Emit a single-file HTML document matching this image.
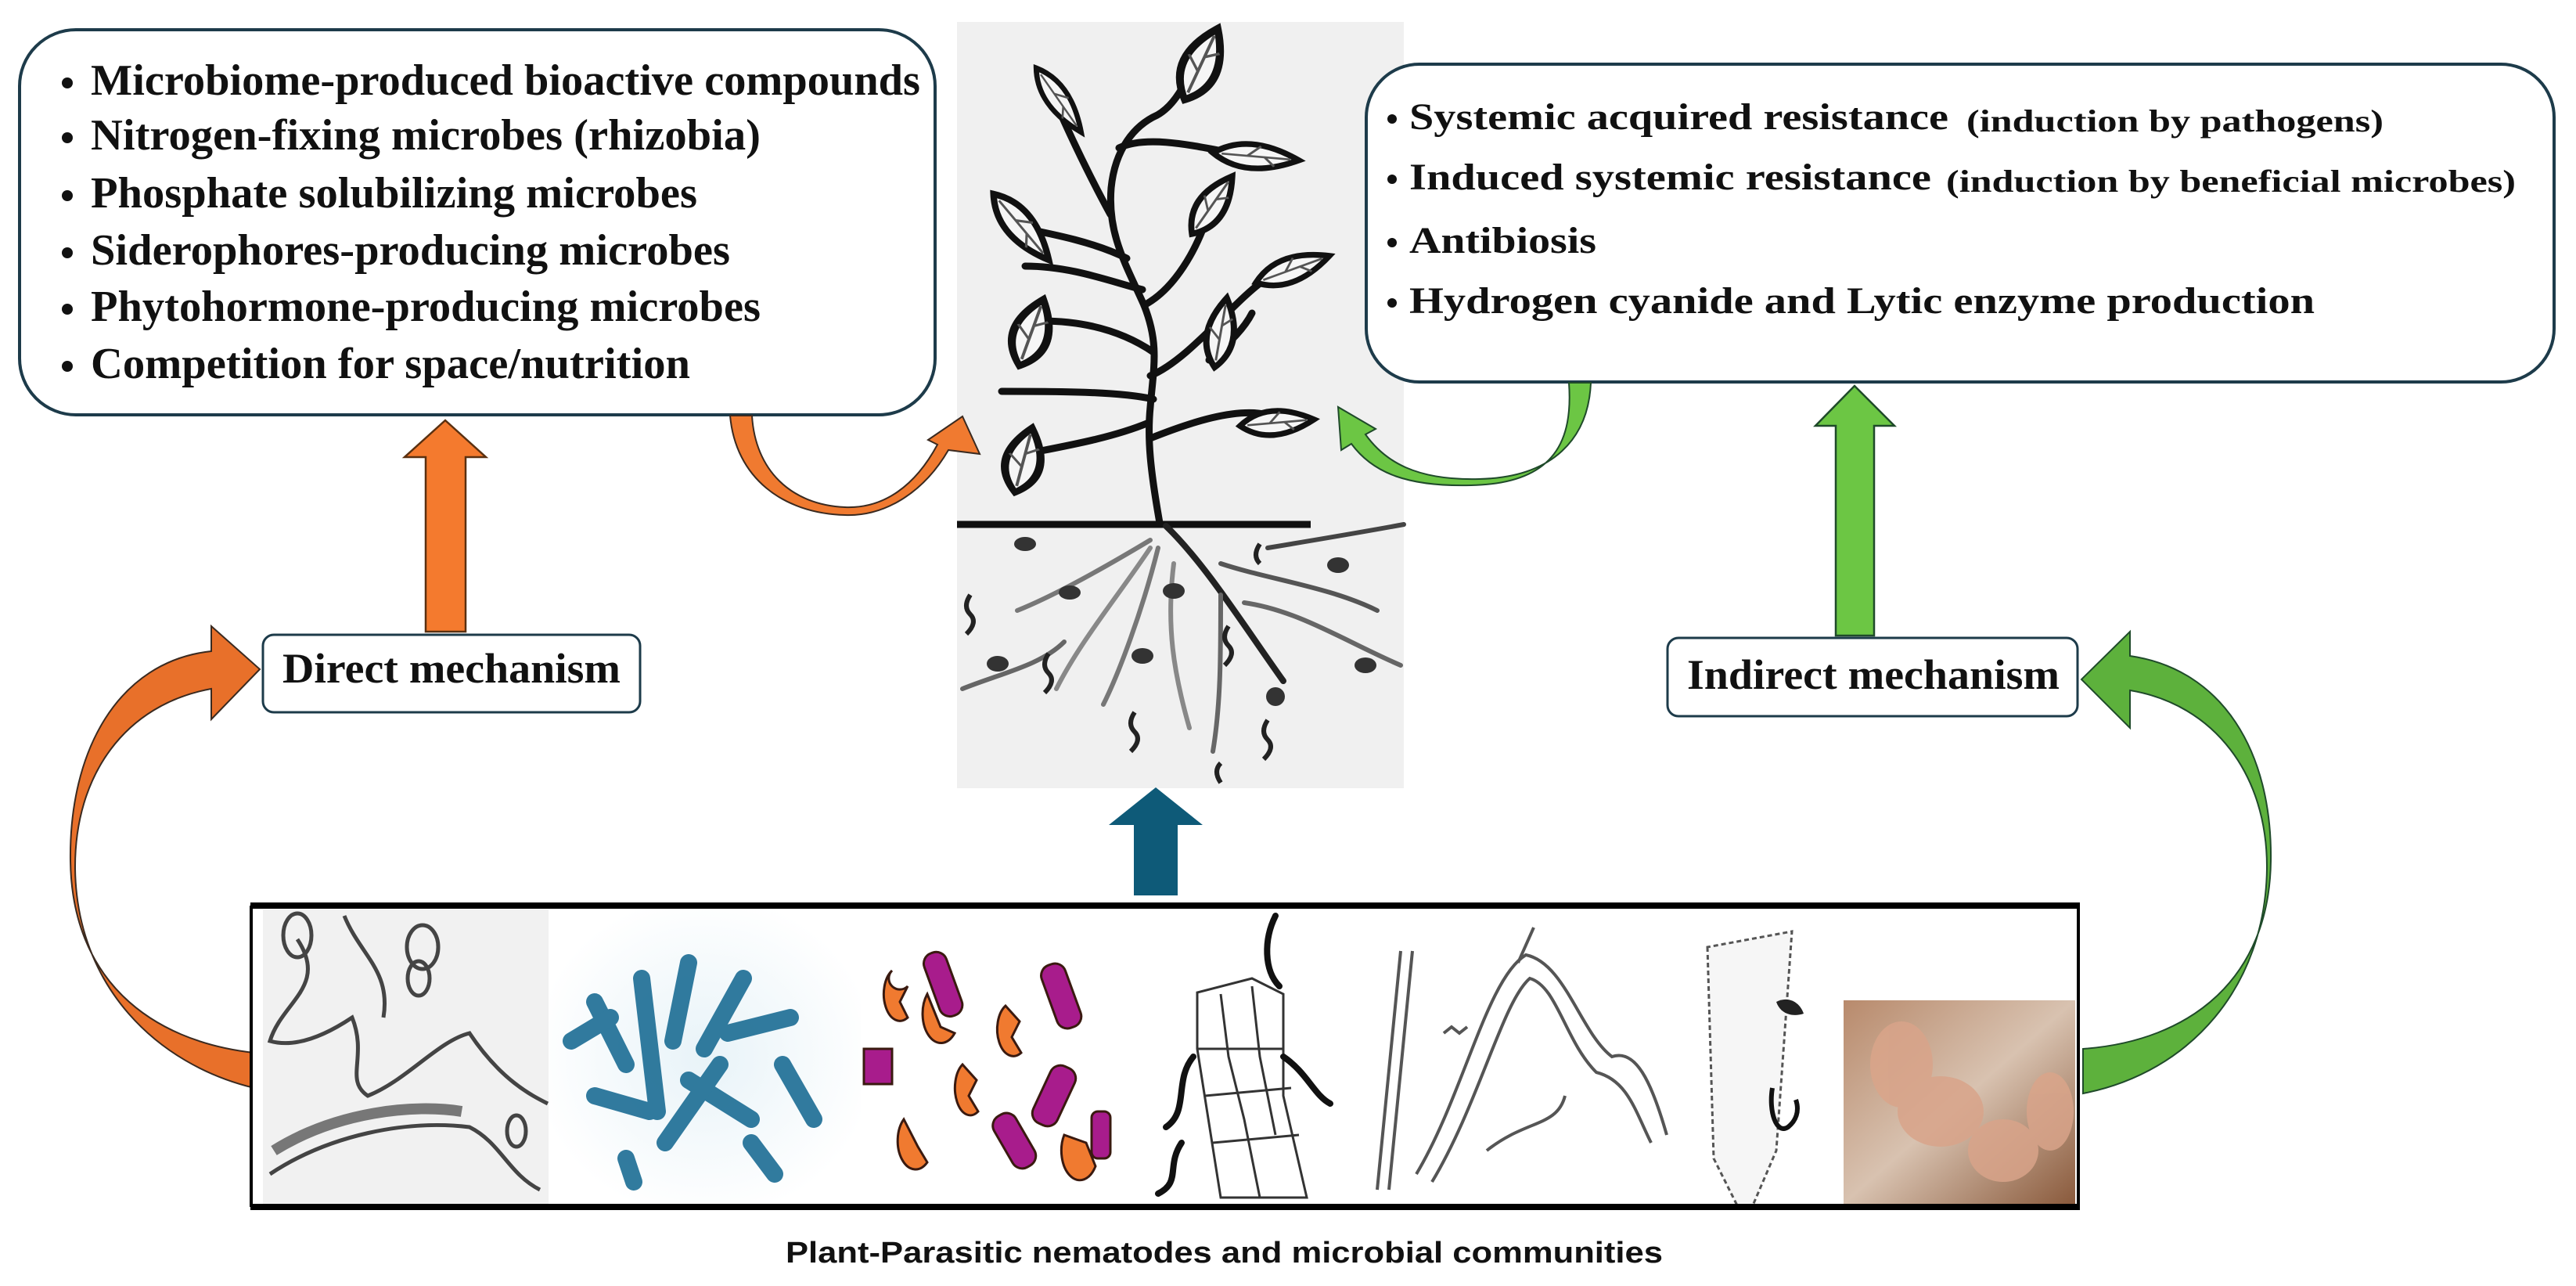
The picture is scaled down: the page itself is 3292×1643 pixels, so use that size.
<!DOCTYPE html>
<html><head><meta charset="utf-8"><style>
html,body{margin:0;padding:0;background:#fff}
svg{display:block}
.s{font-family:"Liberation Serif",serif;font-weight:bold;fill:#111}
</style></head><body>
<svg width="3292" height="1643" viewBox="0 0 3292 1643" xmlns="http://www.w3.org/2000/svg">
<defs>
<radialGradient id="bl" cx="50%" cy="50%" r="55%"><stop offset="0" stop-color="#e8f3f8"/><stop offset="1" stop-color="#fff"/></radialGradient>
<linearGradient id="ph" x1="0" y1="0" x2="1" y2="1"><stop offset="0" stop-color="#b88a6c"/><stop offset=".5" stop-color="#d8c2b0"/><stop offset="1" stop-color="#8a5a3c"/></linearGradient>
<g id="leaf"><path d="M-50 0 Q-10 -34 50 0 Q-10 34 -50 0Z" fill="#f6f6f6" stroke="#111" stroke-width="8"/><path d="M-40 0 L40 0 M-10 0 L5 -15 M10 0 L22 12" fill="none" stroke="#555" stroke-width="3"/></g>
</defs>

<!-- plant panel -->
<rect x="1223" y="28" width="571" height="979" fill="#f0f0f0"/>
<g fill="none" stroke="#111" stroke-width="9" stroke-linecap="round">
<path d="M1482 668 C1470 600 1466 560 1470 520 C1474 470 1482 440 1462 390 C1440 340 1415 300 1420 240 C1425 190 1450 160 1479 147 C1500 135 1515 110 1530 70"/>
<path d="M1419 274 C1395 230 1370 180 1340 110"/>
<path d="M1430 189 C1470 170 1540 190 1600 200"/>
<path d="M1462 390 C1500 370 1530 320 1545 270"/>
<path d="M1460 370 C1420 360 1370 340 1310 340"/>
<path d="M1440 330 C1400 310 1350 300 1300 290"/>
<path d="M1470 480 C1520 460 1580 380 1620 355"/>
<path d="M1474 450 C1430 420 1380 410 1330 410"/>
<path d="M1474 510 C1430 500 1350 500 1280 500"/>
<path d="M1470 560 C1520 540 1580 520 1620 530"/>
<path d="M1468 540 C1420 560 1360 570 1310 580"/>
<path d="M1545 460 C1570 440 1590 420 1600 400"/>
</g>
<use href="#leaf" transform="translate(1535 82) rotate(-65) scale(1 1.3)"/>
<use href="#leaf" transform="translate(1353 128) rotate(55) scale(1 0.8)"/>
<use href="#leaf" transform="translate(1605 200) rotate(5) scale(1.1 0.9)"/>
<use href="#leaf" transform="translate(1549 262) rotate(-55) scale(0.9 1)"/>
<use href="#leaf" transform="translate(1305 290) rotate(50) scale(1.1 1)"/>
<use href="#leaf" transform="translate(1652 344) rotate(-20) scale(1 0.9)"/>
<use href="#leaf" transform="translate(1318 425) rotate(-70) scale(0.9 1.3)"/>
<use href="#leaf" transform="translate(1560 425) rotate(-80) scale(0.9 1)"/>
<use href="#leaf" transform="translate(1632 540) rotate(-5) scale(0.95 0.9)"/>
<use href="#leaf" transform="translate(1308 588) rotate(-75) scale(0.85 1.3)"/>
<line x1="1223" y1="670" x2="1675" y2="670" stroke="#111" stroke-width="9"/>
<g fill="none" stroke="#333" stroke-width="6" stroke-linecap="round">
<path d="M1490 672 C1540 720 1590 800 1640 870" stroke-width="8" stroke="#222"/>
<path d="M1470 690 C1420 720 1350 760 1300 780" stroke="#777"/>
<path d="M1470 700 C1430 760 1380 820 1350 880" stroke="#888"/>
<path d="M1480 700 C1460 780 1430 860 1410 900" stroke="#777"/>
<path d="M1500 720 C1490 800 1500 860 1520 930" stroke="#888"/>
<path d="M1560 760 C1560 840 1560 900 1550 960" stroke="#666"/>
<path d="M1560 720 C1620 740 1700 750 1760 780" stroke="#555"/>
<path d="M1590 770 C1660 780 1720 820 1790 850" stroke="#666"/>
<path d="M1620 700 C1680 690 1740 680 1794 670" stroke="#444"/>
<path d="M1230 880 C1280 860 1330 850 1360 820" stroke="#666"/>
</g>
<g fill="#333">
<ellipse cx="1310" cy="695" rx="14" ry="9"/><ellipse cx="1367" cy="757" rx="14" ry="9"/>
<ellipse cx="1500" cy="755" rx="14" ry="10"/><ellipse cx="1710" cy="722" rx="14" ry="10"/>
<ellipse cx="1275" cy="848" rx="14" ry="10"/><ellipse cx="1460" cy="838" rx="14" ry="10"/>
<ellipse cx="1745" cy="850" rx="14" ry="10"/><ellipse cx="1630" cy="890" rx="12" ry="12"/>
</g>
<g fill="none" stroke="#222" stroke-width="6">
<path d="M1240 760 q-10 15 0 25 q10 10 -5 25"/><path d="M1340 835 q-10 15 0 25 q10 10 -5 25"/>
<path d="M1450 910 q-10 15 0 25 q10 10 -5 25"/><path d="M1570 800 q-10 15 0 25 q10 10 -5 25"/>
<path d="M1560 1000 q-10 -15 0 -25"/><path d="M1620 920 q-10 15 0 25 q10 10 -5 25"/>
<path d="M1610 695 q-10 15 0 25"/>
</g>

<!-- left box -->
<rect x="25" y="38" width="1170" height="492" rx="72" fill="#fff" stroke="#1d3b4a" stroke-width="4"/>
<g fill="#111">
<circle cx="86" cy="106" r="7"/><circle cx="86" cy="176" r="7"/><circle cx="86" cy="250" r="7"/>
<circle cx="86" cy="323" r="7"/><circle cx="86" cy="395" r="7"/><circle cx="86" cy="468" r="7"/>
</g>
<g class="s" font-size="56">
<text x="116" y="121" textLength="1060" lengthAdjust="spacingAndGlyphs">Microbiome-produced bioactive compounds</text>
<text x="116" y="191" textLength="856" lengthAdjust="spacingAndGlyphs">Nitrogen-fixing microbes (rhizobia)</text>
<text x="116" y="265" textLength="775" lengthAdjust="spacingAndGlyphs">Phosphate solubilizing microbes</text>
<text x="116" y="338" textLength="817" lengthAdjust="spacingAndGlyphs">Siderophores-producing microbes</text>
<text x="116" y="410" textLength="856" lengthAdjust="spacingAndGlyphs">Phytohormone-producing microbes</text>
<text x="116" y="483" textLength="766" lengthAdjust="spacingAndGlyphs">Competition for space/nutrition</text>
</g>

<!-- right box -->
<rect x="1746" y="82" width="1518" height="406" rx="68" fill="#fff" stroke="#1d3b4a" stroke-width="4"/>
<g fill="#111">
<circle cx="1779" cy="152" r="6"/><circle cx="1779" cy="229" r="6"/><circle cx="1779" cy="310" r="6"/><circle cx="1779" cy="387" r="6"/>
</g>
<g class="s">
<text x="1801" y="165" font-size="48" textLength="689" lengthAdjust="spacingAndGlyphs">Systemic acquired resistance</text>
<text x="2513" y="168" font-size="40" textLength="533" lengthAdjust="spacingAndGlyphs">(induction by pathogens)</text>
<text x="1801" y="242" font-size="48" textLength="667" lengthAdjust="spacingAndGlyphs">Induced systemic resistance</text>
<text x="2487" y="245" font-size="40" textLength="728" lengthAdjust="spacingAndGlyphs">(induction by beneficial microbes)</text>
<text x="1801" y="323" font-size="48" textLength="239" lengthAdjust="spacingAndGlyphs">Antibiosis</text>
<text x="1801" y="400" font-size="48" textLength="1157" lengthAdjust="spacingAndGlyphs">Hydrogen cyanide and Lytic enzyme production</text>
</g>

<!-- orange U arrow -->
<path d="M933 531 L961 531 C965 600 1010 645 1080 648 C1130 650 1170 620 1198 568 L1186 562 L1230 532 L1252 580 L1212 575 C1180 630 1130 660 1080 658 C1000 656 940 610 933 531 Z" fill="#f07a30" stroke="#3a2a20" stroke-width="2"/>
<!-- green U arrow -->
<path d="M2005 489 L2033 489 C2030 560 1985 610 1890 612 C1810 614 1770 590 1745 555 L1758 548 L1710 520 L1714 575 L1727 567 C1755 605 1800 622 1880 620 C1990 618 2010 560 2005 489 Z" fill="#6cc644" stroke="#1f4a2a" stroke-width="2"/>

<!-- direct box and arrow -->
<polygon points="544,807 544,584 517,584 569,537 621,584 595,584 595,807" fill="#f47a2e" stroke="#5a3010" stroke-width="2.5"/>
<rect x="336" y="811" width="482" height="99" rx="14" fill="#fff" stroke="#1d3b4a" stroke-width="3"/>
<text class="s" x="361" y="872" font-size="54" textLength="432" lengthAdjust="spacingAndGlyphs">Direct mechanism</text>

<!-- indirect box and arrow -->
<polygon points="2346,812 2346,544 2320,544 2370,493 2421,544 2395,544 2395,812" fill="#6cc644" stroke="#1f4a2a" stroke-width="2.5"/>
<rect x="2131" y="815" width="524" height="100" rx="14" fill="#fff" stroke="#1d3b4a" stroke-width="3"/>
<text class="s" x="2156" y="880" font-size="54" textLength="476" lengthAdjust="spacingAndGlyphs">Indirect mechanism</text>

<!-- big left orange arrow -->
<path d="M325 1390 C200 1360 98 1260 96 1110 C95 990 160 900 270 880 L270 919 L332 855 L270 800 L270 832 C150 845 88 960 90 1100 C92 1250 190 1330 325 1345 Z" fill="#e8702a" stroke="#3a2a20" stroke-width="2"/>
<!-- big right green arrow -->
<path d="M2662 1397 C2800 1370 2895 1260 2897 1110 C2898 990 2830 900 2722 882 L2722 930 L2660 868 L2722 807 L2722 838 C2840 855 2904 960 2902 1100 C2900 1250 2800 1330 2662 1340 Z" fill="#5db13c" stroke="#1f4a2a" stroke-width="2"/>

<!-- teal arrow -->
<polygon points="1449,1144 1449,1054 1417,1054 1477,1006 1537,1054 1505,1054 1505,1144" fill="#0e5a78"/>

<!-- picture strip -->
<rect x="320" y="1157" width="2336" height="385" fill="#fff"/>
<rect x="336" y="1162" width="365" height="376" fill="#f1f1f1"/>
<g fill="none" stroke="#444" stroke-width="5">
<path d="M380 1200 C420 1260 360 1280 345 1330 C380 1340 420 1320 450 1300 C470 1350 440 1380 470 1400 C520 1380 560 1330 600 1320 C640 1380 680 1400 700 1410"/>
<path d="M440 1170 C460 1220 500 1240 490 1300"/>
<path d="M345 1500 C420 1450 520 1430 600 1440 C640 1460 650 1500 690 1520"/>
<path d="M350 1470 C430 1420 530 1410 590 1420" stroke="#777" stroke-width="14"/>
<ellipse cx="380" cy="1195" rx="18" ry="28"/><ellipse cx="540" cy="1210" rx="20" ry="28"/><ellipse cx="535" cy="1250" rx="14" ry="22"/><ellipse cx="660" cy="1445" rx="12" ry="20"/>
</g>
<rect x="701" y="1162" width="399" height="376" fill="url(#bl)"/>
<g stroke="#1c6d94" stroke-width="22" stroke-linecap="round" opacity=".9">
<line x1="760" y1="1280" x2="800" y2="1360"/><line x1="820" y1="1250" x2="840" y2="1420"/><line x1="880" y1="1230" x2="860" y2="1330"/>
<line x1="900" y1="1340" x2="950" y2="1250"/><line x1="760" y1="1400" x2="830" y2="1420"/><line x1="880" y1="1380" x2="960" y2="1430"/>
<line x1="930" y1="1320" x2="1010" y2="1300"/><line x1="850" y1="1460" x2="920" y2="1360"/><line x1="1000" y1="1360" x2="1040" y2="1430"/>
<line x1="730" y1="1330" x2="780" y2="1300"/><line x1="960" y1="1460" x2="990" y2="1500"/><line x1="800" y1="1480" x2="810" y2="1510"/>
</g>
<g stroke="#3a1a10" stroke-width="3">
<g fill="#a81c8c">
<rect x="1190" y="1215" width="30" height="85" rx="14" transform="rotate(-20 1205 1257)"/>
<rect x="1340" y="1230" width="32" height="85" rx="14" transform="rotate(-20 1356 1272)"/>
<rect x="1330" y="1360" width="34" height="80" rx="14" transform="rotate(25 1347 1400)"/>
<rect x="1280" y="1420" width="32" height="75" rx="14" transform="rotate(-30 1296 1457)"/>
<rect x="1104" y="1340" width="36" height="45"/>
<rect x="1395" y="1420" width="24" height="60" rx="8"/>
</g>
<g fill="#f07a30">
<path d="M1140 1240 a18 30 0 1 0 20 60 l-10 -20 l10 -20 a12 12 0 0 1 -20 -20z"/>
<path d="M1185 1270 a20 32 0 1 0 35 50 l-18 -8 z"/>
<path d="M1285 1285 a18 30 0 1 0 20 60 l-12 -20 l10 -20 z"/>
<path d="M1230 1360 a18 32 0 1 0 20 60 l-12 -20 l10 -20 z"/>
<path d="M1155 1430 a20 32 0 1 0 30 55 l-12 -20 z"/>
<path d="M1360 1450 a20 32 0 1 0 40 40 l-12 -30 z"/>
</g></g>
<g fill="none" stroke="#333" stroke-width="3">
<path d="M1530 1268 L1530 1340 L1560 1530 L1670 1530 L1640 1400 L1640 1270 L1600 1250 Z"/>
<path d="M1560 1270 L1570 1350 L1590 1430 L1610 1530"/><path d="M1600 1260 L1610 1350 L1630 1450"/>
<path d="M1530 1340 L1640 1340 M1540 1400 L1650 1390 M1550 1460 L1660 1450"/>
</g>
<g fill="none" stroke="#111" stroke-width="8" stroke-linecap="round">
<path d="M1630 1170 C1615 1200 1615 1240 1635 1260"/><path d="M1640 1350 C1670 1370 1680 1400 1700 1410"/>
<path d="M1525 1350 C1500 1380 1520 1420 1490 1440"/><path d="M1510 1460 C1490 1490 1510 1510 1480 1525"/>
</g>
<g fill="none" stroke="#555" stroke-width="4">
<path d="M1790 1215 L1760 1520 M1805 1215 L1775 1520"/>
<path d="M1810 1500 C1870 1400 1900 1250 1950 1220 C2000 1230 2020 1320 2060 1350 C2090 1340 2110 1380 2130 1450"/>
<path d="M1830 1510 C1890 1410 1920 1280 1955 1250 C1990 1260 2000 1330 2040 1370 C2080 1380 2090 1420 2110 1460"/>
<path d="M1900 1470 C1950 1430 1990 1440 2000 1400"/>
<path d="M1940 1230 L1960 1185"/>
<path d="M1845 1320 l10 -8 l10 8 l10 -8"/>
</g>
<path d="M2182 1210 L2190 1480 L2220 1540 L2240 1540 L2270 1470 L2290 1190 Z" fill="#f6f6f6" stroke="#555" stroke-width="3" stroke-dasharray="6 4"/>
<path d="M2270 1280 c15 -8 30 0 35 15 c-15 5 -30 0 -35 -15z" fill="#222"/>
<path d="M2265 1390 c-5 30 5 60 20 50 c10 -8 15 -20 10 -35" fill="none" stroke="#111" stroke-width="6"/>
<rect x="2356" y="1278" width="296" height="260" fill="url(#ph)"/>
<g fill="#d9a48a" opacity=".85">
<ellipse cx="2430" cy="1360" rx="40" ry="55"/><ellipse cx="2480" cy="1420" rx="55" ry="45"/><ellipse cx="2560" cy="1470" rx="45" ry="40"/><ellipse cx="2620" cy="1420" rx="30" ry="50"/>
</g>
<line x1="320" y1="1157" x2="2658" y2="1157" stroke="#000" stroke-width="8"/>
<line x1="320" y1="1542" x2="2658" y2="1542" stroke="#000" stroke-width="8"/>
<line x1="321" y1="1157" x2="321" y2="1542" stroke="#000" stroke-width="4"/>
<line x1="2656" y1="1157" x2="2656" y2="1542" stroke="#000" stroke-width="4"/>

<text x="1004" y="1613" font-family="Liberation Sans, sans-serif" font-weight="bold" font-size="38" fill="#111" textLength="1121" lengthAdjust="spacingAndGlyphs">Plant-Parasitic nematodes and microbial communities</text>
</svg>
</body></html>
